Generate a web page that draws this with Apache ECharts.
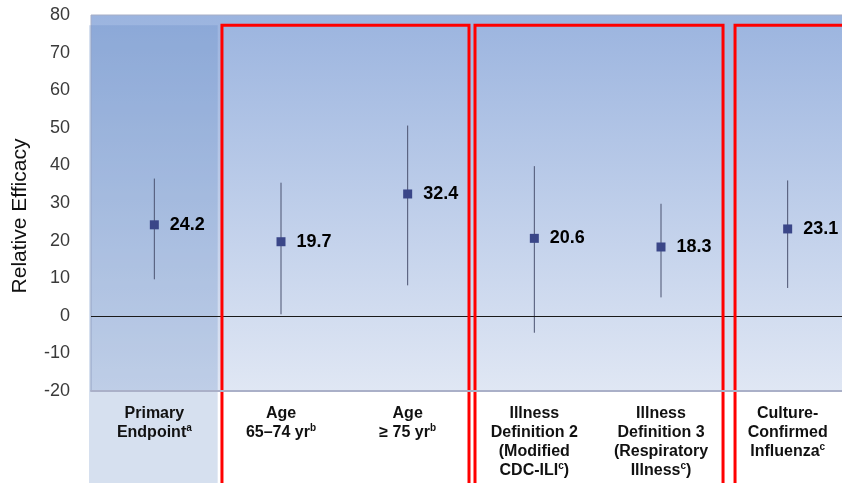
<!DOCTYPE html>
<html>
<head>
<meta charset="utf-8">
<script src="https://cdn.jsdelivr.net/npm/echarts@6/dist/echarts.min.js"></script>
<style>
html,body{margin:0;padding:0;background:#fff;overflow:hidden;width:842px;height:483px;}
#chart{width:851px;height:483px;}
</style>
</head>
<body>
<div id="chart"></div>
<script>
// ---- data ----
const categories = [
  'Primary\nEndpoint{sup|a}',
  'Age\n65\u201374 yr{sup|b}',
  'Age\n\u2265 75 yr{sup|b}',
  'Illness\nDefinition 2\n(Modified\nCDC-ILI{sup|c})',
  'Illness\nDefinition 3\n(Respiratory\nIllness{sup|c})',
  'Culture-\nConfirmed\nInfluenza{sup|c}'
];
const estimates = [24.2, 19.7, 32.4, 20.6, 18.3, 23.1];
const lower = [9.7, 0.4, 8.1, -4.5, 4.9, 7.4];
const upper = [36.5, 35.4, 50.6, 39.8, 29.8, 36.0];
const yTicks = { min: -20, max: 80, interval: 10 };
const yAxisTitle = 'Relative Efficacy';
const boxGroups = [[1, 2], [3, 4], [5, 5]];
const highlightCategory = 0;
const panelTopValue = 77.3;

// ---- style (pixel insets for red boxes: [left, right]) ----
const boxInsets = [[4.3, 2], [4, 1.3], [10.7, -30]];
const FONT = 'Liberation Sans, Arial, sans-serif';

const chart = echarts.init(document.getElementById('chart'), null, { renderer: 'canvas' });

const option = {
  animation: false,
  backgroundColor: '#ffffff',
  grid: {
    left: 91, right: 0, top: 15, bottom: 92,
    show: true,
    borderWidth: 1,
    borderColor: '#a7aec6',
    backgroundColor: new echarts.graphic.LinearGradient(0, 0, 0, 1, [
      { offset: 0, color: '#9bb4df' },
      { offset: 1, color: '#e0e7f4' }
    ])
  },
  graphic: [{
    type: 'text',
    x: 20, y: 216,
    rotation: Math.PI / 2,
    style: {
      text: yAxisTitle,
      fontFamily: FONT, fontSize: 21, fill: '#111',
      align: 'center', verticalAlign: 'middle'
    }
  }],
  xAxis: {
    type: 'category',
    data: categories,
    z: 6,
    axisLine: { onZero: false, lineStyle: { color: '#aab0c8', width: 2 } },
    axisTick: { show: false },
    axisLabel: {
      interval: 0,
      margin: 13,
      fontFamily: FONT,
      fontSize: 16,
      fontWeight: 'bold',
      color: '#111',
      lineHeight: 19,
      verticalAlign: 'top',
      rich: {
        sup: { fontFamily: FONT, fontSize: 10, fontWeight: 'bold', color: '#111', verticalAlign: 'top', lineHeight: 19, padding: [0, 0, 6, 0] }
      }
    },
    splitLine: { show: false }
  },
  yAxis: {
    type: 'value',
    min: yTicks.min, max: yTicks.max, interval: yTicks.interval,
    axisLine: { show: false },
    axisTick: { show: false },
    splitLine: { show: false },
    axisLabel: { margin: 21, fontFamily: FONT, fontSize: 18, color: '#3a3a3a' }
  },
  series: [
    {
      type: 'custom',
      z: 1,
      silent: true,
      clip: false,
      data: [[highlightCategory]],
      renderItem: function (params, api) {
        const c = api.coord([api.value(0), panelTopValue]);
        const bw = api.size([1, 0])[0];
        return {
          type: 'rect',
          shape: { x: c[0] - bw / 2 - 2, y: c[1], width: bw + 2, height: api.getHeight() - c[1] },
          style: { fill: 'rgba(91,131,191,0.25)' }
        };
      }
    },
    {
      type: 'custom',
      z: 5,
      silent: true,
      clip: false,
      data: boxGroups.map((g, i) => [g[0], g[1], i]),
      renderItem: function (params, api) {
        const a = api.coord([api.value(0), panelTopValue]);
        const b = api.coord([api.value(1), panelTopValue]);
        const bw = api.size([1, 0])[0];
        const ins = boxInsets[api.value(2)];
        const x0 = a[0] - bw / 2 + ins[0];
        const x1 = b[0] + bw / 2 - ins[1];
        return {
          type: 'rect',
          shape: { x: x0, y: a[1], width: x1 - x0, height: api.getHeight() - a[1] + 20 },
          style: { fill: 'none', stroke: '#ff0000', lineWidth: 3 }
        };
      }
    },
    {
      type: 'custom',
      z: 3,
      silent: true,
      data: estimates.map((v, i) => [i, lower[i], upper[i]]),
      renderItem: function (params, api) {
        const lo = api.coord([api.value(0), api.value(1)]);
        const hi = api.coord([api.value(0), api.value(2)]);
        return {
          type: 'line',
          shape: { x1: lo[0], y1: lo[1], x2: hi[0], y2: hi[1] },
          style: { stroke: '#4b5270', lineWidth: 1 }
        };
      }
    },
    {
      type: 'scatter',
      z: 4,
      symbol: 'rect',
      symbolSize: 9,
      itemStyle: { color: '#3a4688', opacity: 1 },
      data: estimates,
      label: {
        show: true,
        position: 'right',
        distance: 11,
        formatter: p => p.value.toFixed(1),
        fontFamily: FONT,
        fontSize: 18,
        fontWeight: 'bold',
        color: '#000'
      },
      markLine: {
        silent: true,
        symbol: 'none',
        label: { show: false },
        lineStyle: { color: '#1a1a1a', width: 1, type: 'solid' },
        data: [{ yAxis: 0 }]
      }
    }
  ]
};
chart.setOption(option);
</script>
</body>
</html>
